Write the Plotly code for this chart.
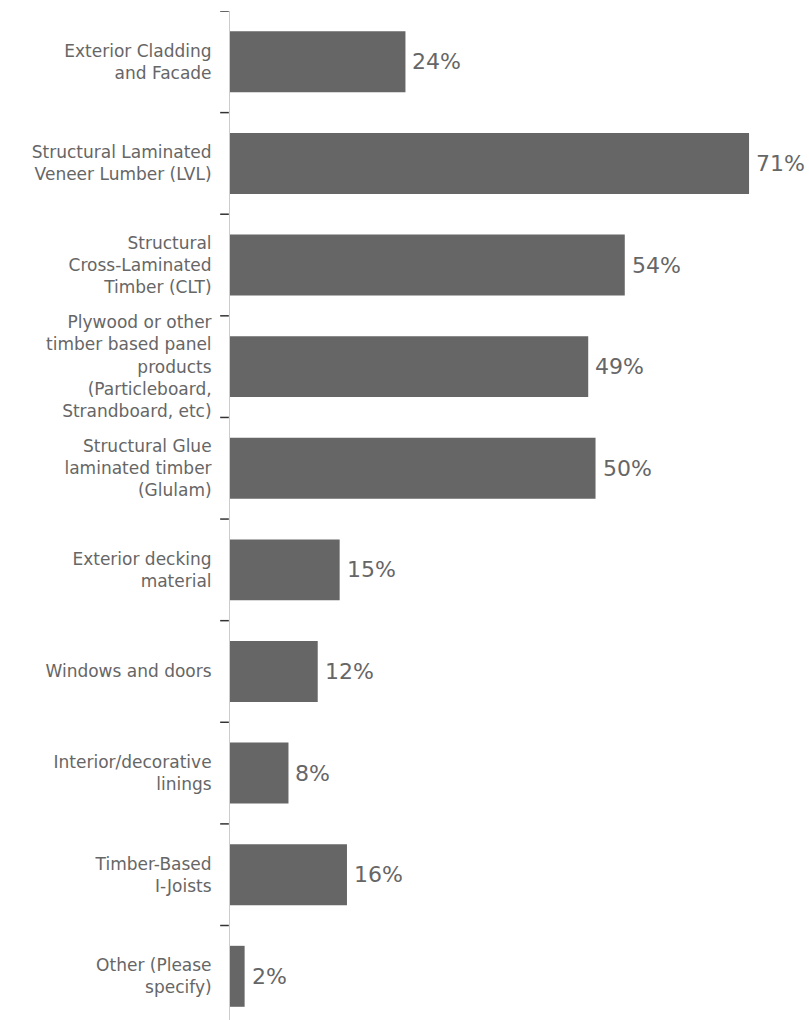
import plotly.graph_objects as go

categories = [
    "Exterior Cladding<br>and Facade",
    "Structural Laminated<br>Veneer Lumber (LVL)",
    "Structural<br>Cross-Laminated<br>Timber (CLT)",
    "Plywood or other<br>timber based panel<br>products<br>(Particleboard,<br>Strandboard, etc)",
    "Structural Glue<br>laminated timber<br>(Glulam)",
    "Exterior decking<br>material",
    "Windows and doors",
    "Interior/decorative<br>linings",
    "Timber-Based<br>I-Joists",
    "Other (Please<br>specify)",
]
values = [24, 71, 54, 49, 50, 15, 12, 8, 16, 2]

FONT = "DejaVu Sans, sans-serif"
positions = list(range(len(categories)))

fig = go.Figure(
    go.Bar(
        x=values,
        y=positions,
        orientation="h",
        width=0.6,
        marker=dict(color="#666666", line=dict(width=0)),
        hoverinfo="skip",
    )
)

# Percentage labels just to the right of each bar
for pos, v in zip(positions, values):
    fig.add_annotation(
        x=v, y=pos, xref="x", yref="y",
        text=f"{v}%",
        showarrow=False,
        xanchor="left", yanchor="middle",
        xshift=5,
        font=dict(family=FONT, size=22, color="#666666"),
    )

fig.update_layout(
    width=809,
    height=1020,
    margin=dict(l=230, r=0, t=11, b=0),
    paper_bgcolor="white",
    plot_bgcolor="white",
    showlegend=False,
    xaxis=dict(
        range=[0, 79.2],
        visible=False,
        showgrid=False,
        zeroline=False,
    ),
    yaxis=dict(
        type="linear",
        range=[9.43, -0.5],
        tickmode="array",
        tickvals=positions,
        ticktext=categories,
        showgrid=False,
        zeroline=False,
        showline=True,
        linecolor="#cccccc",
        linewidth=1,
        ticks="",
        ticklabelstandoff=14,
        tickfont=dict(family=FONT, size=17, color="#666666"),
    ),
)

# Boundary tick marks between categories, drawn to the left of the axis line
for b in [i - 0.5 for i in range(len(categories) + 1)]:
    fig.add_shape(
        type="line",
        xref="paper", yref="y",
        x0=-0.017, x1=-0.002, y0=b, y1=b,
        line=dict(color="#333333", width=1.5),
    )

fig.write_html("out.html")
